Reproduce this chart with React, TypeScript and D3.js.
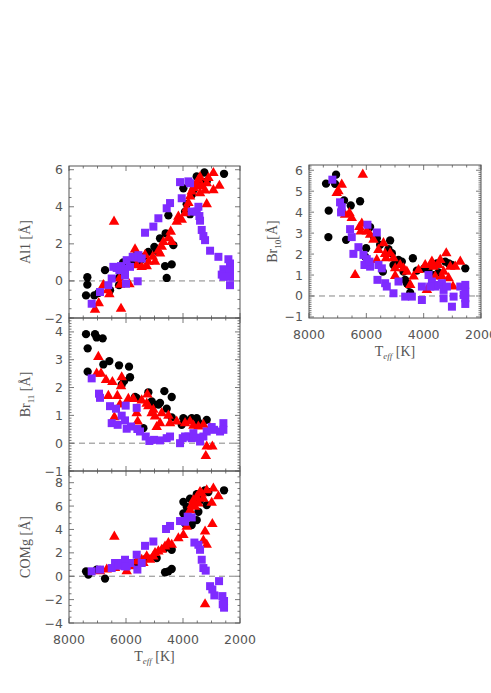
import React from 'react';
import * as d3 from 'd3';

// [Teff, EW] pairs
const al1Black = [
  [7356, 0.2], [7356, -0.2], [7403, -0.78], [7111, -0.78], [6970, -0.65], [6736, 0.58], [6560, -0.5],
  [6245, -0.23], [6245, 0.18], [5800, 1.03], [5683, 1.34], [5390, 1.3], [5215, 1.57], [4923, 1.63],
  [5005, 1.84], [4806, 2.3], [4607, 2.57], [4513, 3.54], [4630, 0.8], [4396, 0.89], [4572, 0.16],
  [4338, 1.93], [3987, 5.0], [3928, 3.74], [3870, 4.14], [3752, 3.6], [3636, 4.9], [3520, 5.64],
  [3425, 5.37], [3250, 5.85], [3168, 5.37], [2560, 5.78], [3694, 4.64], [6100, 1.0], [5500, 1.1],
];
const al1Red = [
  [6420, 3.2], [7087, -1.55], [6958, -1.2], [6795, -0.23], [6643, -0.5], [6584, -0.72], [6233, 0.13],
  [6210, -0.2], [6175, -1.5], [5882, -0.18], [5683, 1.7], [5624, 0.85], [5449, 0.76], [5273, 0.8],
  [5215, 1.03], [5063, 1.3], [4981, 1.03], [4864, 1.63], [4747, 1.84], [4689, 2.1], [4806, 1.48],
  [4513, 2.3], [4431, 2.66], [4396, 2.1], [4221, 3.2], [4162, 3.47], [4045, 3.3], [3928, 3.65],
  [3870, 3.92], [3811, 4.2], [3752, 4.55], [3694, 4.82], [3636, 5.0], [3577, 5.13], [3518, 5.27],
  [3460, 5.46], [3402, 5.6], [3343, 5.1], [3226, 4.88], [3168, 5.27], [3109, 5.55], [2934, 5.82],
  [2934, 4.9], [2723, 5.13], [3168, 4.14], [3402, 4.73], [5330, 1.4], [5550, 1.2],
];
const al1Purple = [
  [7204, -1.23], [6912, -0.6], [6620, -0.23], [6502, 0.13], [6444, 0.76], [6327, 0.7], [6233, 0.58],
  [6175, 0.8], [6034, 0.3], [6034, 0.67], [6000, -0.15], [5859, 0.76], [5976, 1.12], [5765, 1.3],
  [5683, 1.26], [5590, -0.02], [5566, 1.39], [5449, 1.21], [5332, 2.6], [5040, 2.93], [4864, 3.38],
  [4572, 3.92], [4455, 4.2], [4045, 4.46], [4104, 5.33], [3811, 5.37], [3752, 5.27], [3694, 3.74],
  [3518, 3.74], [3460, 4.0], [3402, 3.25], [3343, 2.75], [3285, 2.42], [3226, 2.2], [3050, 1.63],
  [3425, 3.5], [2758, 1.3], [2407, 1.17], [2350, 0.94], [2583, 0.63], [2641, 0.34], [2583, 0.22],
  [2350, 0.58], [2350, 0.22], [2350, -0.23],
];

const br11Black = [
  [7403, 3.92], [7087, 3.92], [7029, 3.8], [6818, 3.77], [7345, 3.41], [7345, 2.57], [6795, 2.83],
  [6584, 2.95], [6245, 2.8], [5894, 2.75], [5859, 2.37], [6151, 2.1], [6069, 2.23], [5683, 1.66],
  [5625, 1.63], [5215, 1.83], [5098, 1.5], [5040, 1.39], [4864, 1.39], [4806, 1.45], [4654, 1.87],
  [4572, 1.24], [4396, 1.66], [4396, 0.93], [5390, 0.54], [3987, 0.9], [3928, 0.84], [3694, 0.9],
  [3518, 0.9], [3460, 0.75], [3168, 0.84], [4045, 0.66], [3870, 0.8],
];
const br11Red = [
  [6970, 3.1], [7029, 2.5], [6877, 2.5], [6701, 2.27], [6478, 2.2], [6151, 2.37], [6175, 2.05],
  [6620, 1.7], [6303, 1.7], [5918, 1.59], [5742, 1.59], [5449, 1.54], [5250, 1.75], [5215, 1.33],
  [5625, 1.08], [5590, 0.78], [6409, 0.93], [6210, 1.39], [5040, 1.2], [4981, 0.96], [4923, 0.58],
  [4806, 0.72], [4747, 1.08], [4513, 0.99], [4455, 0.72], [4221, 0.78], [3928, 0.72], [3752, 0.78],
  [3636, 0.63], [3460, 0.6], [3285, 0.66], [3050, 0.54], [3168, -0.12], [2970, -0.12], [3200, -0.46],
  [5273, 1.42], [5098, 1.08],
];
const br11Purple = [
  [7204, 2.33], [6947, 1.78], [6912, 1.63], [6561, 1.33], [6350, 1.24], [6502, 0.72], [6292, 0.66],
  [6151, 0.99], [6011, 1.35], [6034, 0.82], [5976, 0.52], [5824, 0.6], [5625, 1.27], [5601, 0.51],
  [5508, 0.42], [5308, 0.24], [5180, 0.08], [5016, 0.12], [4806, 0.1], [4572, 0.18], [4455, 0.24],
  [4104, 0.0], [4010, 0.18], [3811, 0.24], [3694, 0.18], [3518, 0.2], [3402, 0.06], [3285, 0.24],
  [3168, 0.42], [2993, 0.58], [2911, 0.48], [2700, 0.42], [2583, 0.72], [2583, 0.48], [3636, 0.36],
  [3928, 0.24],
];

const comgBlack = [
  [7403, 0.42], [7321, 0.14], [6736, -0.2], [7029, 0.57], [6268, 1.0], [5625, 1.19], [5273, 1.55],
  [4923, 1.55], [4630, 2.4], [4396, 2.26], [4630, 0.34], [4513, 0.42], [4396, 0.62], [3987, 6.36],
  [3987, 5.37], [3928, 4.52], [3752, 6.64], [3694, 4.38], [3518, 7.01], [3518, 4.8], [3460, 5.51],
  [3402, 6.5], [3226, 7.35], [3109, 7.2], [3168, 6.08], [2560, 7.35], [3870, 5.94],
];
const comgRed = [
  [6409, 3.39], [3226, -2.4], [3226, 3.82], [3168, 2.69], [2970, 4.47], [3285, 3.04], [2934, 7.5],
  [2758, 6.84], [2993, 6.28], [6912, 0.42], [6677, 0.57], [6385, 0.7], [6151, 0.85], [5976, 0.42],
  [5800, 0.85], [5625, 1.27], [5449, 1.41], [5273, 1.7], [5156, 1.41], [5040, 1.7], [4981, 1.98],
  [4864, 2.12], [4747, 2.26], [4630, 2.54], [4513, 2.83], [4396, 2.69], [4162, 3.25], [3987, 3.53],
  [3870, 4.24], [3752, 5.65], [3694, 6.08], [3636, 6.5], [3518, 6.78], [3402, 7.2], [3343, 7.07],
  [3285, 6.64], [3168, 7.35], [3460, 6.22], [5390, 1.13], [3577, 5.94],
];
const comgPurple = [
  [7204, 0.42], [6912, 0.57], [6502, 0.7], [6385, 1.13], [6268, 0.9], [6151, 1.13], [6034, 1.41],
  [5976, 0.85], [5859, 1.13], [6034, 0.85], [5625, 1.84], [5601, 0.57], [5449, 1.13], [5332, 2.6],
  [5040, 2.97], [4595, 4.04], [4455, 4.3], [4104, 4.72], [3928, 4.66], [3835, 5.09], [3694, 5.03],
  [3600, 2.88], [3460, 2.69], [3402, 2.26], [3343, 1.41], [3285, 0.7], [3203, 0.48], [3050, -0.85],
  [2970, -1.13], [2900, -1.64], [2735, -0.42], [2618, -1.7], [2560, -2.12], [2560, -2.69],
  [2606, -2.4],
];

const br10Black = [
  [7406, 5.36], [7056, 5.79], [7091, 5.35], [7313, 4.07], [7324, 2.81], [6777, 4.56], [6544, 4.32],
  [6218, 4.52], [6707, 2.68], [6043, 1.88], [6008, 2.28], [5868, 3.29], [5729, 2.81], [5635, 2.76],
  [5519, 2.44], [5170, 2.65], [5228, 2.23], [5425, 1.16], [5111, 2.04], [4878, 1.72], [4761, 1.64],
  [4703, 1.16], [4645, 0.77], [4586, 0.61], [4528, 0.53], [4470, 0.16], [4377, 1.8], [4237, 1.21],
  [3981, 1.32], [3830, 1.24], [3655, 1.0], [3538, 1.56], [3480, 1.12], [3247, 1.64], [3130, 1.56],
  [3014, 1.48], [2548, 1.32], [5053, 1.48],
];
const br10Red = [
  [6124, 5.79], [6858, 5.31], [6975, 5.0], [7033, 4.91], [6742, 3.88], [6591, 3.96], [6509, 3.72],
  [6241, 3.29], [6159, 3.45], [6194, 3.08], [5985, 3.08], [5868, 2.92], [5752, 2.68], [6392, 1.0],
  [5635, 1.72], [5577, 2.2], [5402, 2.52], [5344, 2.01], [5310, 1.8], [5170, 2.04], [5053, 1.8],
  [4994, 1.32], [4994, 0.96], [4820, 1.48], [4703, 1.32], [4586, 1.16], [4470, 0.53], [4353, 0.93],
  [4179, 1.24], [3946, 1.48], [3888, 0.29], [3713, 1.64], [3655, 1.4], [3480, 1.48], [3422, 1.72],
  [3364, 0.93], [3305, 1.16], [3212, 2.04], [3130, 0.85], [3072, 1.4], [2979, 0.45], [2898, 1.4],
  [2723, 1.64], [3596, 0.93], [3771, 1.48],
];
const br10Purple = [
  [7185, 5.55], [6917, 4.47], [6858, 4.24], [6882, 3.99], [6567, 3.19], [6509, 2.81], [6451, 2.01],
  [6276, 2.33], [6101, 1.96], [6066, 1.48], [5985, 1.76], [5961, 3.4], [5868, 1.4], [5891, 1.64],
  [5635, 3.03], [5577, 1.48], [5612, 0.77], [5460, 1.32], [5344, 0.61], [5286, 0.45], [5053, 0.13],
  [4878, 0.69], [4645, -0.03], [4412, -0.03], [4062, -0.19], [4062, 0.45], [3830, 1.0], [3713, 0.69],
  [3596, 0.45], [3480, 0.53], [3364, 0.61], [3305, 0.29], [3189, 0.45], [3305, -0.11], [3014, -0.51],
  [2956, -0.03], [2723, 0.45], [2548, 0.53], [2548, 0.21], [2548, -0.11], [2548, -0.38], [2606, 0.05],
  [3771, 0.45],
];

const xMajor = [8000, 6000, 4000, 2000];

const BLACK = '#000000';
const RED = '#ff0000';
const PURPLE = '#7f2bff';
const AXIS = '#555555';

const W = 491;
const H = 693;

interface Panel {
  key: string;
  left: number;
  right: number;
  top: number;
  bottom: number;
  yDomain: [number, number];
  yMajor: number;
  yMinor: number;
  label: React.ReactNode;
  labelX: number;
  showX: boolean;
  black: number[][];
  red: number[][];
  purple: number[][];
}

const ang = <tspan>[Å]</tspan>;

const panels: Panel[] = [
  {
    key: 'al1', left: 69, right: 240, top: 166, bottom: 318, yDomain: [-2, 6.2], yMajor: 2, yMinor: 0.5,
    label: <>Al1 {ang}</>, labelX: 30, showX: false, black: al1Black, red: al1Red, purple: al1Purple,
  },
  {
    key: 'br11', left: 69, right: 240, top: 318, bottom: 471, yDomain: [-1, 4.5], yMajor: 1, yMinor: 0.1,
    label: <>Br<tspan fontSize="9" dy="4">11</tspan><tspan dy="-4"> [Å]</tspan></>, labelX: 30, showX: false,
    black: br11Black, red: br11Red, purple: br11Purple,
  },
  {
    key: 'comg', left: 69, right: 240, top: 471, bottom: 623, yDomain: [-4, 9], yMajor: 2, yMinor: 0.5,
    label: <>COMg {ang}</>, labelX: 30, showX: true, black: comgBlack, red: comgRed, purple: comgPurple,
  },
  {
    key: 'br10', left: 309, right: 481, top: 165, bottom: 318, yDomain: [-1.05, 6.25], yMajor: 1, yMinor: 0.1,
    label: <>Br<tspan fontSize="9" dy="4">10</tspan><tspan dy="-4">[Å]</tspan></>, labelX: 277, showX: true,
    black: br10Black, red: br10Red, purple: br10Purple,
  },
];

const circle = d3.symbol(d3.symbolCircle, 54)();
const square = d3.symbol(d3.symbolSquare, 64)();
const triangle = d3.symbol(d3.symbolTriangle, 48)();

// values a, a+step, ... not beyond b
const range = (a: number, b: number, step: number) => {
  const out: number[] = [];
  const n = Math.floor((b - a) / step + 1e-6);
  for (let i = 0; i <= n; i++) out.push(+(a + i * step).toFixed(6));
  return out;
};

const PanelView: React.FC<{ p: Panel }> = ({ p }) => {
  const x = d3.scaleLinear().domain([8000, 2000]).range([p.left, p.right]);
  const y = d3.scaleLinear().domain(p.yDomain).range([p.bottom, p.top]);
  const yMaj = range(Math.ceil(p.yDomain[0] / p.yMajor - 1e-6) * p.yMajor, p.yDomain[1], p.yMajor);
  const yMin = range(Math.ceil(p.yDomain[0] / p.yMinor - 1e-6) * p.yMinor, p.yDomain[1], p.yMinor);
  const xMin = range(2000, 8000, 500);
  const cy = (p.top + p.bottom) / 2;
  const clip = `clip-${p.key}`;
  return (
    <g>
      <defs>
        <clipPath id={clip}>
          <rect x={p.left} y={p.top} width={p.right - p.left} height={p.bottom - p.top} />
        </clipPath>
      </defs>
      <line x1={p.left} x2={p.right} y1={y(0)} y2={y(0)} stroke="#777" strokeDasharray="6,4" strokeWidth={0.9} />
      <g clipPath={`url(#${clip})`}>
        {p.black.map((d, i) => (
          <path key={'b' + i} d={circle} transform={`translate(${x(d[0])},${y(d[1])})`} fill={BLACK} />
        ))}
        {p.red.map((d, i) => (
          <path key={'r' + i} d={triangle} transform={`translate(${x(d[0])},${y(d[1])})`} fill={RED} />
        ))}
        {p.purple.map((d, i) => (
          <path key={'p' + i} d={square} transform={`translate(${x(d[0])},${y(d[1])})`} fill={PURPLE} />
        ))}
      </g>
      <rect x={p.left} y={p.top} width={p.right - p.left} height={p.bottom - p.top} fill="none" stroke={AXIS} strokeWidth={1} />
      {/* x ticks, mirrored top and bottom */}
      {xMin.map(t => {
        const len = xMajor.includes(t) ? 5 : 2.5;
        return (
          <g key={'xt' + t} stroke={AXIS} strokeWidth={0.8}>
            <line x1={x(t)} x2={x(t)} y1={p.bottom} y2={p.bottom - len} />
            <line x1={x(t)} x2={x(t)} y1={p.top} y2={p.top + len} />
          </g>
        );
      })}
      {yMin.map(t => {
        const major = yMaj.some(m => Math.abs(m - t) < 1e-6);
        const len = major ? 5 : 2.5;
        return (
          <g key={'yt' + t} stroke={AXIS} strokeWidth={0.8}>
            <line x1={p.left} x2={p.left + len} y1={y(t)} y2={y(t)} />
            <line x1={p.right} x2={p.right - len} y1={y(t)} y2={y(t)} />
          </g>
        );
      })}
      {yMaj.map(t => (
        <text key={'yl' + t} x={p.left - 6} y={y(t) + 4.5} textAnchor="end" fontSize="12.5" fill={AXIS}
          fontFamily="DejaVu Sans">
          {t < 0 ? '\u2212' + Math.abs(t) : String(t)}
        </text>
      ))}
      {p.showX && xMajor.map(t => (
        <text key={'xl' + t} x={x(t)} y={p.bottom + 21} textAnchor="middle" fontSize="12.5" fill={AXIS}
          fontFamily="DejaVu Sans">
          {t}
        </text>
      ))}
      {p.showX && (
        <text x={(p.left + p.right) / 2} y={p.bottom + 38} textAnchor="middle" fontSize="14" fill={AXIS}
          fontFamily="Liberation Serif">
          T<tspan fontSize="9" dy="3" fontStyle="italic">eff</tspan><tspan dy="-3">  [K]</tspan>
        </text>
      )}
      <text transform={`translate(${p.labelX},${cy}) rotate(-90)`} textAnchor="middle" fontSize="14" fill={AXIS}
        fontFamily="Liberation Serif">
        {p.label}
      </text>
    </g>
  );
};

export default function App() {
  return (
    <svg width={W} height={H} style={{ position: 'absolute', left: 0, top: 0, background: '#fff' }}>
      {panels.map(p => <PanelView key={p.key} p={p} />)}
    </svg>
  );
}
